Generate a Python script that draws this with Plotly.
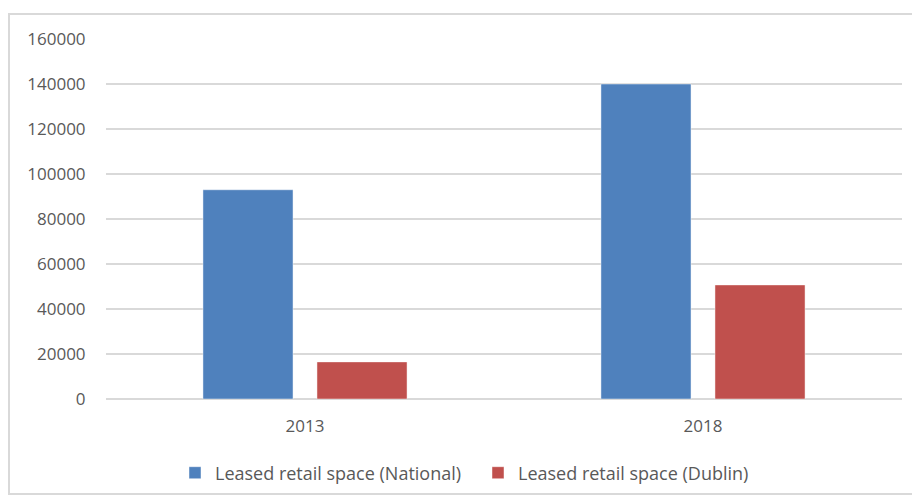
import plotly.graph_objects as go

# Leased retail space, square metres
years = ["2013", "2018"]
national = [93000, 140000]
dublin = [16500, 50700]
series_names = ["Leased retail space (National)", "Leased retail space (Dublin)"]
y_ticks = [0, 20000, 40000, 60000, 80000, 100000, 120000, 140000, 160000]

W, H = 912, 495
L, R, T, B = 106, 10, 39, 96
plot_w = W - L - R
plot_h = H - T - B

text_color = "#595959"
grid_color = "#d9d9d9"
font_family = "Open Sans, Liberation Sans, sans-serif"

fig = go.Figure()
fig.add_trace(go.Bar(
    x=years, y=national, name=series_names[0],
    marker=dict(color="#4f81bd", line=dict(color="rgba(255,255,255,0.45)", width=1)),
))
fig.add_trace(go.Bar(
    x=years, y=dublin, name=series_names[1],
    marker=dict(color="#c0504d", line=dict(color="rgba(255,255,255,0.45)", width=1)),
))


def px_x(x):
    return (x - L) / plot_w


def px_y(y):
    return (H - B - y) / plot_h


# light frame around the whole chart
fig.add_shape(
    type="rect", xref="paper", yref="paper",
    x0=px_x(9), x1=px_x(913), y0=px_y(14), y1=px_y(494),
    line=dict(color="#d9d9d9", width=2), fillcolor="rgba(0,0,0,0)", layer="below",
)

fig.update_layout(
    width=W, height=H,
    margin=dict(l=L, r=R, t=T, b=B, pad=0, autoexpand=False),
    paper_bgcolor="white", plot_bgcolor="white",
    font=dict(family=font_family, size=17, color=text_color),
    barmode="group", bargap=0.427, bargroupgap=0.21,
    showlegend=True,
    legend=dict(
        orientation="h", x=px_x(175), xanchor="left", y=px_y(473), yanchor="middle",
        font=dict(size=18, color=text_color), bgcolor="rgba(0,0,0,0)",
        itemwidth=30, tracegroupgap=0, entrywidth=258, entrywidthmode="pixels",
    ),
    xaxis=dict(
        showgrid=False, showline=False, zeroline=False,
        ticks="outside", ticklen=12, tickcolor="rgba(0,0,0,0)",
        tickfont=dict(size=17, color=text_color),
    ),
    yaxis=dict(
        range=[0, 160000], tickvals=y_ticks, ticktext=[str(v) for v in y_ticks],
        showgrid=True, gridcolor=grid_color, gridwidth=1.6,
        zeroline=True, zerolinecolor=grid_color, zerolinewidth=1.6,
        showline=False,
        ticks="outside", ticklen=16, tickcolor="rgba(0,0,0,0)",
        tickfont=dict(size=17, color=text_color),
    ),
)

fig.write_html("out.html")
